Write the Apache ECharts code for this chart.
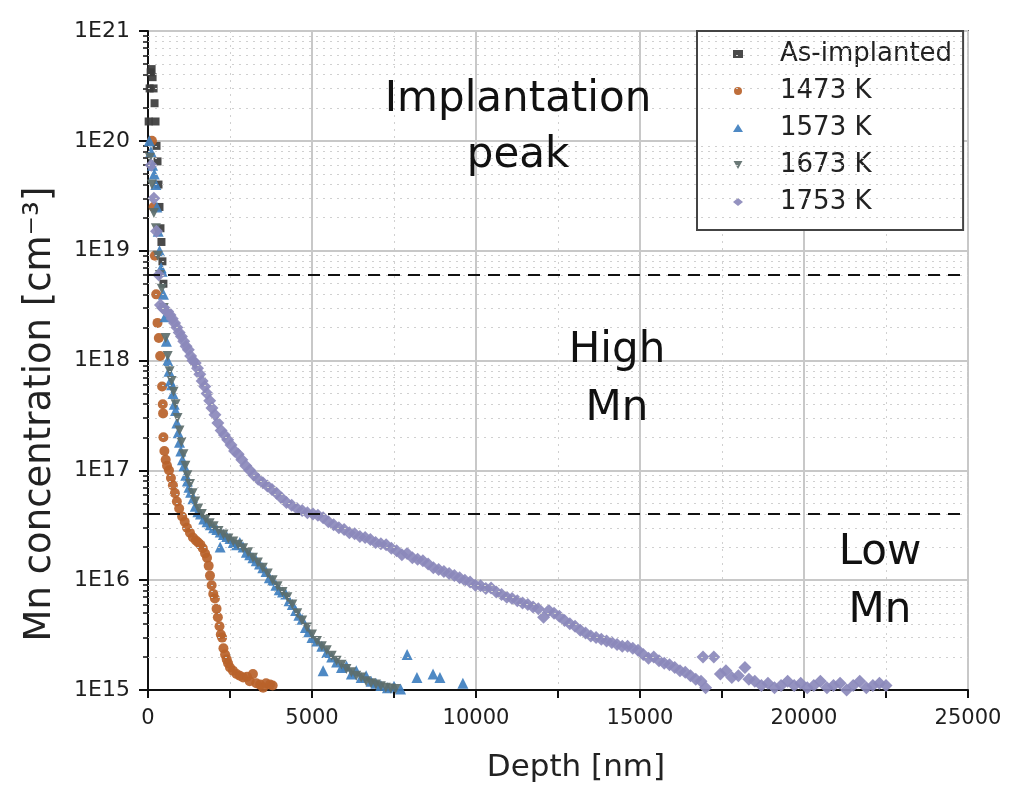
<!DOCTYPE html>
<html><head><meta charset="utf-8">
<script src="https://cdn.jsdelivr.net/npm/echarts@6/dist/echarts.min.js"></script>
<style>html,body{margin:0;padding:0;background:#fff}#c{width:1009px;height:793px}</style>
</head><body><div id="c"></div>
<script>
// ---------- data (depth [nm], Mn concentration [cm^-3]) ----------
const seriesNames = ['As-implanted', '1473 K', '1573 K', '1673 K', '1753 K'];
const xTicks = [0, 5000, 10000, 15000, 20000, 25000];
const yTickLabels = ['1E15', '1E16', '1E17', '1E18', '1E19', '1E20', '1E21'];
const thresholds = [6e18, 4e16];

const asImplanted = [[20,1.5e20],[50,3e20],[80,4.2e20],[110,4.5e20],[140,3.8e20],[170,3e20],[200,2.2e20],[230,1.5e20],[260,9e19],[290,6.5e19],[320,4e19],[350,2.5e19],[380,1.6e19],[410,1.2e19],[440,8e18],[470,5e18]];

const k1473 = [[120,1e20],[170,2.5e19],[210,9e18],[250,4e18],[290,2.2e18],[330,1.6e18],[370,1.1e18],[430,5.8e17],[450,4e17],[460,3.3e17],[470,2e17],[500,1.5e17],[540,1.25e17],[580,1.1e17],[640,1e17],[700,8.5e16],[760,7.3e16],[820,6.2e16],[880,5.2e16],[950,4.5e16],[1040,3.8e16],[1120,3.4e16],[1190,3e16],[1280,2.7e16],[1370,2.45e16],[1460,2.3e16],[1530,2.2e16],[1600,2.1e16],[1670,1.95e16],[1740,1.75e16],[1800,1.6e16],[1850,1.35e16],[1890,1.1e16],[1940,9e15],[1990,7.5e15],[2040,6.8e15],[2090,5.5e15],[2130,4.6e15],[2180,3.8e15],[2220,3.2e15],[2260,3e15],[2300,2.4e15],[2350,2.1e15],[2400,1.9e15],[2440,1.75e15],[2500,1.6e15],[2590,1.5e15],[2700,1.4e15],[2800,1.35e15],[2900,1.3e15],[3020,1.32e15],[3100,1.2e15],[3200,1.4e15],[3300,1.15e15],[3420,1.12e15],[3510,1.05e15],[3600,1.15e15],[3720,1.12e15],[3800,1.1e15]];

const k1573 = [[40,1e20],[90,8e19],[140,6e19],[190,5e19],[240,4e19],[270,2.5e19],[310,1.5e19],[350,1e19],[400,7e18],[430,6.5e18],[470,4e18],[520,2.5e18],[560,1.5e18],[600,1e18],[640,8e17],[680,6.5e17],[720,6e17],[760,5e17],[800,4e17],[840,3.5e17],[880,2.7e17],[920,2.2e17],[960,1.8e17],[1000,1.5e17],[1050,1.25e17],[1100,1.1e17],[1150,9e16],[1200,8e16],[1250,7e16],[1300,6.3e16],[1370,5.5e16],[1440,4.7e16],[1520,4.2e16],[1600,4e16],[1700,3.6e16],[1800,3.4e16],[1900,3.2e16],[2000,3e16],[2100,2.9e16],[2200,2.75e16],[2200,2e16],[2300,2.6e16],[2400,2.5e16],[2500,2.4e16],[2600,2.2e16],[2700,2.1e16],[2800,2.2e16],[2900,2e16],[3000,1.8e16],[3100,1.7e16],[3200,1.6e16],[3300,1.5e16],[3400,1.4e16],[3500,1.3e16],[3600,1.2e16],[3700,1.05e16],[3800,1e16],[3900,9e15],[4000,8.2e15],[4100,7.8e15],[4200,7.5e15],[4300,6.5e15],[4400,6e15],[4500,5.3e15],[4600,4.8e15],[4700,4.4e15],[4800,3.7e15],[4900,3.4e15],[5000,3e15],[5150,2.8e15],[5300,2.5e15],[5340,1.5e15],[5450,2.2e15],[5600,2e15],[5750,1.8e15],[5900,1.6e15],[6050,1.65e15],[6200,1.4e15],[6350,1.5e15],[6500,1.3e15],[6650,1.35e15],[6800,1.2e15],[6950,1.15e15],[7100,1.1e15],[7300,1.05e15],[7500,1.08e15],[7700,1.02e15],[7900,2.1e15],[8200,1.3e15],[8690,1.4e15],[8900,1.3e15],[9600,1.15e15]];

const k1673 = [[60,7e19],[120,4e19],[180,2.2e19],[240,1.6e19],[300,9e18],[360,6e18],[420,4.5e18],[480,3e18],[540,1.6e18],[600,1.1e18],[660,8e17],[720,6.5e17],[780,5.2e17],[840,4e17],[900,3e17],[960,2.3e17],[1020,1.8e17],[1080,1.4e17],[1140,1.1e17],[1200,9e16],[1280,7.5e16],[1360,6.2e16],[1440,5.2e16],[1530,4.5e16],[1640,4e16],[1760,3.6e16],[1880,3.3e16],[2000,3.1e16],[2150,2.8e16],[2300,2.6e16],[2450,2.4e16],[2600,2.25e16],[2750,2.1e16],[2900,1.95e16],[3050,1.8e16],[3200,1.6e16],[3350,1.45e16],[3500,1.3e16],[3650,1.15e16],[3800,1e16],[3950,8.8e15],[4100,7.8e15],[4250,7e15],[4400,6e15],[4550,5e15],[4700,4.3e15],[4850,3.7e15],[5000,3.2e15],[5150,2.8e15],[5300,2.5e15],[5450,2.3e15],[5600,2.05e15],[5750,1.85e15],[5900,1.7e15],[6050,1.55e15],[6200,1.45e15],[6350,1.35e15],[6500,1.3e15],[6650,1.2e15],[6800,1.15e15],[6950,1.12e15],[7100,1.08e15],[7250,1.05e15],[7400,1.03e15],[7550,1.02e15]];

const k1753 = [[100,6e19],[180,3e19],[260,1.5e19],[330,6e18],[380,3.2e18],[450,3e18],[520,2.9e18],[600,2.8e18],[670,2.6e18],[740,2.4e18],[810,2.2e18],[880,2e18],[950,1.8e18],[1020,1.65e18],[1090,1.5e18],[1160,1.35e18],[1230,1.25e18],[1300,1.1e18],[1370,1e18],[1440,9.5e17],[1510,8.5e17],[1580,7.5e17],[1650,6.5e17],[1730,5.8e17],[1800,5e17],[1880,4.3e17],[1950,3.7e17],[2040,3.2e17],[2130,2.7e17],[2230,2.3e17],[2330,2.1e17],[2430,1.9e17],[2530,1.7e17],[2640,1.5e17],[2750,1.4e17],[2860,1.25e17],[2980,1.1e17],[3100,1e17],[3230,9e16],[3360,8.3e16],[3500,7.7e16],[3640,7.2e16],[3780,6.7e16],[3920,6.2e16],[4070,5.6e16],[4220,5.1e16],[4380,4.8e16],[4540,4.5e16],[4700,4.3e16],[4860,4.1e16],[5030,4e16],[5180,3.9e16],[5340,3.7e16],[5500,3.4e16],[5660,3.2e16],[5820,3.0e16],[5980,2.9e16],[6140,2.7e16],[6300,2.65e16],[6460,2.5e16],[6620,2.45e16],[6780,2.35e16],[6940,2.2e16],[7100,2.15e16],[7260,2.1e16],[7420,1.95e16],[7580,1.85e16],[7740,1.7e16],[7900,1.75e16],[8060,1.6e16],[8220,1.55e16],[8380,1.5e16],[8540,1.4e16],[8700,1.3e16],[8860,1.25e16],[9020,1.2e16],[9180,1.15e16],[9340,1.1e16],[9500,1.05e16],[9660,1.0e16],[9820,9.6e15],[9980,9e15],[10140,8.9e15],[10300,8.4e15],[10460,8.5e15],[10620,7.8e15],[10780,7.4e15],[10940,7.0e15],[11100,6.8e15],[11260,6.5e15],[11420,6.2e15],[11580,6e15],[11740,5.7e15],[11900,5.5e15],[12060,4.6e15],[12220,5.3e15],[12380,5.0e15],[12540,4.7e15],[12700,4.3e15],[12860,4.0e15],[13020,3.8e15],[13180,3.5e15],[13340,3.3e15],[13500,3.1e15],[13660,3.0e15],[13820,2.9e15],[13980,2.8e15],[14140,2.7e15],[14300,2.6e15],[14460,2.5e15],[14620,2.5e15],[14780,2.4e15],[14940,2.3e15],[15100,2.1e15],[15260,1.95e15],[15420,2.0e15],[15580,1.85e15],[15740,1.75e15],[15900,1.7e15],[16060,1.6e15],[16220,1.5e15],[16380,1.45e15],[16540,1.35e15],[16700,1.25e15],[16860,1.2e15],[17000,1.05e15],[16920,2.0e15],[17250,2.0e15],[17450,1.4e15],[17620,1.5e15],[17800,1.3e15],[18000,1.35e15],[18200,1.6e15],[18320,1.25e15],[18500,1.2e15],[18700,1.1e15],[18900,1.15e15],[19100,1.05e15],[19300,1.1e15],[19500,1.2e15],[19700,1.1e15],[19900,1.15e15],[20100,1.05e15],[20300,1.1e15],[20500,1.2e15],[20700,1.05e15],[20900,1.1e15],[21100,1.15e15],[21300,1.0e15],[21500,1.1e15],[21700,1.2e15],[21900,1.05e15],[22100,1.1e15],[22300,1.15e15],[22500,1.1e15]];

// minor log tick positions (2..9 x 10^n)
const minorY = [];
for (let e = 15; e < 21; e++) for (let m = 2; m <= 9; m++) minorY.push(m * Math.pow(10, e));

const colors = ['#3b3b3b', '#b8622a', '#3f7fbf', '#5d6e6b', '#8b89bb'];
const FONT = 'DejaVu Sans';
const DOWN_TRI = 'path://M0,0 L10,0 L5,9 Z';
const symbols = ['rect', 'circle', 'triangle', DOWN_TRI, 'diamond'];

const chart = echarts.init(document.getElementById('c'), null, {renderer: 'canvas'});

function scatter(i, data, size) {
  return {
    name: seriesNames[i], type: 'scatter', data, symbol: symbols[i], symbolSize: size,
    itemStyle: {color: colors[i], opacity: 0.92}, xAxisIndex: 0, yAxisIndex: 0, z: 3
  };
}

const option = {
  animation: false,
  backgroundColor: '#fff',
  grid: {left: 148, right: 41, top: 31, bottom: 103, show: true, borderColor: '#666', borderWidth: 2, backgroundColor: 'transparent'},
  xAxis: {
    type: 'value', min: 0, max: 25000, interval: 5000,
    axisLine: {lineStyle: {color: '#111', width: 2}},
    axisTick: {length: 8, lineStyle: {color: '#111', width: 2}},
    minorTick: {show: true, splitNumber: 2, length: 8, lineStyle: {color: '#111', width: 2}},
    axisLabel: {fontFamily: FONT, fontSize: 21, color: '#1e1e1e', margin: 18,
      formatter: v => xTicks.includes(v) ? String(v) : ''},
    splitLine: {show: true, lineStyle: {color: '#c8c8c8', width: 2}},
    minorSplitLine: {show: true, lineStyle: {color: '#d0d0d0', width: 1, type: [2, 5]}}
  },
  yAxis: [{
    type: 'log', logBase: 10, min: 1e15, max: 1e21,
    axisLine: {show: true, lineStyle: {color: '#111', width: 2}},
    axisTick: {show: true, length: 9, lineStyle: {color: '#111', width: 2}},
    axisLabel: {fontFamily: FONT, fontSize: 22, color: '#1e1e1e', margin: 18,
      formatter: v => yTickLabels[Math.round(Math.log10(v)) - 15]},
    splitLine: {show: true, lineStyle: {color: '#c8c8c8', width: 2}}
  }, {
    type: 'log', logBase: 10, min: 1e15, max: 1e21, position: 'left',
    axisLine: {show: false}, axisLabel: {show: false}, splitLine: {show: false},
    axisTick: {show: true, length: 5, customValues: minorY, lineStyle: {color: '#111', width: 1.5}}
  }],
  legend: {
    orient: 'vertical', left: 697, top: 31, padding: [8, 11, 13, 36], itemGap: 7,
    itemWidth: 10, itemHeight: 8, backgroundColor: '#fff', borderColor: '#444', borderWidth: 2,
    textStyle: {fontFamily: FONT, fontSize: 26, color: '#222', lineHeight: 30, padding: [0, 0, 0, 32]},
    data: seriesNames
  },
  graphic: [
    {type: 'text', x: 576, y: 768, z: 10, style: {text: 'Depth [nm]', font: '31px "DejaVu Sans"', fill: '#222', textAlign: 'center', textVerticalAlign: 'middle'}},
    {type: 'text', x: 40, y: 414, rotation: Math.PI / 2, z: 10, style: {text: 'Mn concentration [cm\u207B\u00B3]', font: '37px "DejaVu Sans"', fill: '#222', textAlign: 'center', textVerticalAlign: 'middle'}},
    {type: 'text', x: 518, y: 72, z: 10, style: {text: 'Implantation\npeak', font: '42px "DejaVu Sans"', fill: '#111', textAlign: 'center', textVerticalAlign: 'top', lineHeight: 56}},
    {type: 'text', x: 617, y: 322, z: 10, style: {text: 'High\nMn', font: '42px "DejaVu Sans"', fill: '#111', textAlign: 'center', textVerticalAlign: 'top', lineHeight: 58}},
    {type: 'text', x: 880, y: 524, z: 10, style: {text: 'Low\nMn', font: '42px "DejaVu Sans"', fill: '#111', textAlign: 'center', textVerticalAlign: 'top', lineHeight: 58}}
  ],
  series: [
    {
      name: 'grid-minor', type: 'line', data: [], silent: true, z: 1,
      markLine: {silent: true, symbol: ['none', 'none'], label: {show: false},
        lineStyle: {color: '#d0d0d0', width: 1, type: [2, 5]},
        data: minorY.map(v => ({yAxis: v}))}
    },
    {
      name: 'thresholds', type: 'line', data: [], silent: true, z: 2,
      markLine: {silent: true, symbol: ['none', 'none'], label: {show: false},
        lineStyle: {color: '#111', width: 2, type: [12, 8]},
        data: thresholds.map(v => ({yAxis: v}))}
    },
    scatter(0, asImplanted, 8),
    scatter(1, k1473, 10),
    scatter(2, k1573, 11),
    scatter(3, k1673, 10),
    scatter(4, k1753, 13)
  ]
};
chart.setOption(option);
</script>
</body></html>
